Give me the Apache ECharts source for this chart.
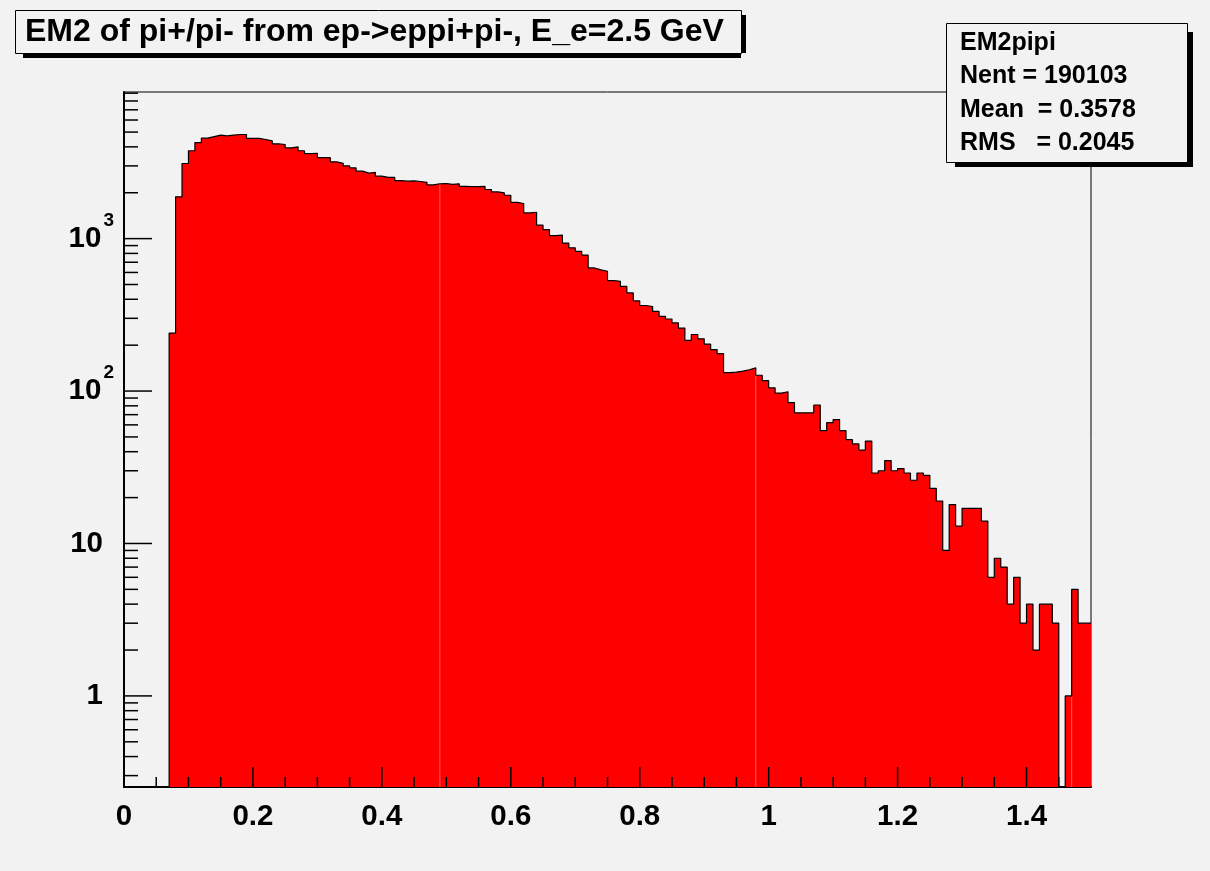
<!DOCTYPE html>
<html>
<head>
<meta charset="utf-8">
<title>EM2 of pi+/pi-</title>
<script src="https://cdn.jsdelivr.net/npm/echarts@6/dist/echarts.min.js"></script>
<style>
  html, body { margin: 0; padding: 0; background: #f2f2f2; }
  #main { width: 1210px; height: 871px; }
</style>
</head>
<body>
<div id="main"></div>
<script>
// Histogram title and statistics box text
const TITLE = 'EM2 of pi+/pi- from ep->eppi+pi-, E_e=2.5 GeV';
const STATS_LINES = ['EM2pipi', 'Nent = 190103', 'Mean  = 0.3578', 'RMS   = 0.2045'];

// Binning: 0.01 wide bins, first filled bin starts at 0.07
const BIN_START = 0.07;
const BIN_WIDTH = 0.01;

// Entries per bin, from 0.07 up to 1.50
const counts = [
  240, 1880, 3110, 3770, 4270, 4560, 4670, 4770, 4720, 4770,
  4820, 4820, 4540, 4540, 4470, 4380, 4190, 4140, 3940, 4000,
  3770, 3610, 3630, 3400, 3400, 3190, 3120, 3000, 2910, 2770,
  2690, 2720, 2570, 2520, 2520, 2400, 2380, 2390, 2370, 2340,
  2250, 2290, 2300, 2270, 2290, 2205, 2195, 2195, 2205, 2100,
  2025, 1995, 1925, 1730, 1700, 1475, 1490, 1225, 1145, 1045,
  1055, 935, 870, 825, 780, 642, 623, 611, 530, 525,
  486, 440, 390, 364, 358, 333, 309, 297, 280, 259,
  215, 235, 220, 203, 187, 176, 132, 133, 135, 138,
  142, 127, 117, 105, 97, 99, 84, 72, 72, 72,
  81, 55, 62, 65, 55, 48, 45, 41, 47, 29,
  30, 35, 30, 31, 29, 26, 29, 28, 23, 19,
  9, 18, 13, 17, 17, 17, 14, 6, 8, 7,
  4, 6, 3, 4, 2, 4, 4, 3, 0, 1,
  5, 3, 3
];

// Axis ranges
const X_MIN = 0, X_MAX = 1.5;
const Y_MIN = 0.2526, Y_MAX = 9160;

// Tick positions
const xMajorTicks = [0, 0.2, 0.4, 0.6, 0.8, 1.0, 1.2, 1.4];
const xMinorTicks = [0.05, 0.1, 0.15, 0.25, 0.3, 0.35, 0.45, 0.5, 0.55, 0.65, 0.7, 0.75,
                     0.85, 0.9, 0.95, 1.05, 1.1, 1.15, 1.25, 1.3, 1.35, 1.45];
const yMajorTicks = [1, 10, 100, 1000];
const yMinorTicks = [0.3, 0.4, 0.5, 0.6, 0.7, 0.8, 0.9,
                     2, 3, 4, 5, 6, 7, 8, 9,
                     20, 30, 40, 50, 60, 70, 80, 90,
                     200, 300, 400, 500, 600, 700, 800, 900,
                     2000, 3000, 4000, 5000, 6000, 7000, 8000, 9000];

// Boundaries where the fill polygon is split (faint seams in the fill)
const fillSeams = [0.49, 0.98, 1.47];

const FONT = 'Liberation Sans, Arial, Helvetica, sans-serif';

// Step outline points: rise at the first edge, one point per bin, close at the last edge
const edge = k => +(BIN_START + k * BIN_WIDTH).toFixed(4);
const floorVal = v => (v > 0 ? v : Y_MIN);
const stepData = [[edge(0), Y_MIN]];
counts.forEach((c, k) => stepData.push([edge(k), floorVal(c)]));
stepData.push([edge(counts.length), floorVal(counts[counts.length - 1])]);

const seamData = fillSeams.map(x => {
  const k = Math.round((x - BIN_START) / BIN_WIDTH);
  return [x, Math.min(floorVal(counts[k - 1]), floorVal(counts[k]))];
});

const xTickData = xMajorTicks.map(v => [v, Y_MIN, 20]).concat(xMinorTicks.map(v => [v, Y_MIN, 10]));
const yTickData = yMajorTicks.map(v => [X_MIN, v, 28]).concat(yMinorTicks.map(v => [X_MIN, v, 14]));

// Decade labels: mantissa right-aligned, exponent hanging to its right
function decadeLabel(v) {
  const e = Math.log10(v);
  const r = Math.round(e);
  if (Math.abs(e - r) > 1e-6) return '';
  if (r === 0) return '{plain|1}';
  if (r === 1) return '{plain|10}';
  return '{base|10}{sup|' + r + '}';
}

const chart = echarts.init(document.getElementById('main'), null, { renderer: 'canvas' });

const option = {
  animation: false,
  backgroundColor: '#f2f2f2',
  grid: {
    left: 124, right: 119, top: 92, bottom: 84,
    show: true, borderColor: '#000', borderWidth: 1, backgroundColor: 'transparent'
  },
  xAxis: {
    type: 'value', min: X_MIN, max: X_MAX, interval: 0.2,
    axisLine: { show: true, onZero: false, lineStyle: { color: '#000', width: 2 } },
    axisTick: { show: false },
    splitLine: { show: false },
    axisLabel: {
      show: true, margin: 15, color: '#000', fontFamily: FONT, fontWeight: 'bold', fontSize: 29.5,
      showMaxLabel: false,
      formatter: v => (v > 1.45 ? '' : String(+v.toFixed(2)))
    }
  },
  yAxis: {
    type: 'log', logBase: 10, min: Y_MIN, max: Y_MAX,
    axisLine: { show: true, lineStyle: { color: '#000', width: 2 } },
    axisTick: { show: false },
    splitLine: { show: false },
    axisLabel: {
      show: true, margin: 10, align: 'right', color: '#000',
      fontFamily: FONT, fontWeight: 'bold', fontSize: 29.5,
      showMinLabel: false, showMaxLabel: false,
      formatter: decadeLabel,
      rich: {
        plain: { fontFamily: FONT, fontWeight: 'bold', fontSize: 29.5, color: '#000',
                 verticalAlign: 'middle', padding: [0, 11, 0, 0] },
        base: { fontFamily: FONT, fontWeight: 'bold', fontSize: 29.5, color: '#000',
                verticalAlign: 'middle' },
        sup: { fontFamily: FONT, fontWeight: 'bold', fontSize: 19, lineHeight: 19, color: '#000',
               verticalAlign: 'middle', padding: [0, 0, 36, 2] }
      }
    }
  },
  series: [
    {
      name: 'EM2pipi',
      type: 'line',
      data: stepData,
      step: 'end',
      symbol: 'none',
      clip: true,
      z: 2,
      lineStyle: { color: '#000', width: 1.2 },
      areaStyle: { color: '#ff0000', opacity: 1, origin: 'start' }
    },
    {
      name: 'seams',
      type: 'custom',
      data: seamData,
      z: 3,
      silent: true,
      renderItem: (params, api) => {
        const top = api.coord([api.value(0), api.value(1)]);
        const bottom = api.coord([api.value(0), Y_MIN]);
        return {
          type: 'line',
          shape: { x1: top[0], y1: top[1] + 1, x2: bottom[0], y2: bottom[1] },
          style: { stroke: '#ff5a5a', lineWidth: 1 }
        };
      }
    },
    {
      name: 'xticks',
      type: 'custom',
      data: xTickData,
      z: 10,
      silent: true,
      renderItem: (params, api) => {
        const p = api.coord([api.value(0), api.value(1)]);
        return {
          type: 'line',
          shape: { x1: p[0], y1: p[1], x2: p[0], y2: p[1] - api.value(2) },
          style: { stroke: '#000', lineWidth: 1.5 }
        };
      }
    },
    {
      name: 'yticks',
      type: 'custom',
      data: yTickData,
      z: 10,
      silent: true,
      renderItem: (params, api) => {
        const p = api.coord([api.value(0), api.value(1)]);
        return {
          type: 'line',
          shape: { x1: p[0], y1: p[1], x2: p[0] + api.value(2), y2: p[1] },
          style: { stroke: '#000', lineWidth: 1.5 }
        };
      }
    }
  ],
  graphic: [
    // title box with drop shadow
    { type: 'polygon', z: 100, silent: true,
      shape: { points: [[23, 53], [746, 53], [746, 15], [741, 15], [741, 58], [23, 58]] },
      style: { fill: '#000' } },
    { type: 'rect', z: 101, silent: true,
      shape: { x: 15.5, y: 10.5, width: 726, height: 43 },
      style: { fill: '#f2f2f2', stroke: '#000', lineWidth: 1 } },
    { type: 'text', z: 102, silent: true, x: 25, y: 31.7,
      style: { text: TITLE, fill: '#000', font: 'bold 32px ' + FONT, textVerticalAlign: 'middle', textAlign: 'left' } },
    // statistics box with drop shadow
    { type: 'polygon', z: 100, silent: true,
      shape: { points: [[955, 162], [1188, 162], [1188, 32], [1193, 32], [1193, 167], [955, 167]] },
      style: { fill: '#000' } },
    { type: 'rect', z: 101, silent: true,
      shape: { x: 946.5, y: 23.5, width: 241, height: 139 },
      style: { fill: '#f2f2f2', stroke: '#000', lineWidth: 1 } }
  ].concat(STATS_LINES.map((t, i) => ({
    type: 'text', z: 102, silent: true, x: 960, y: 43 + i * 33.4,
    style: { text: t, fill: '#000', font: 'bold 25px ' + FONT, textVerticalAlign: 'middle', textAlign: 'left' }
  })))
};

chart.setOption(option);
</script>
</body>
</html>
